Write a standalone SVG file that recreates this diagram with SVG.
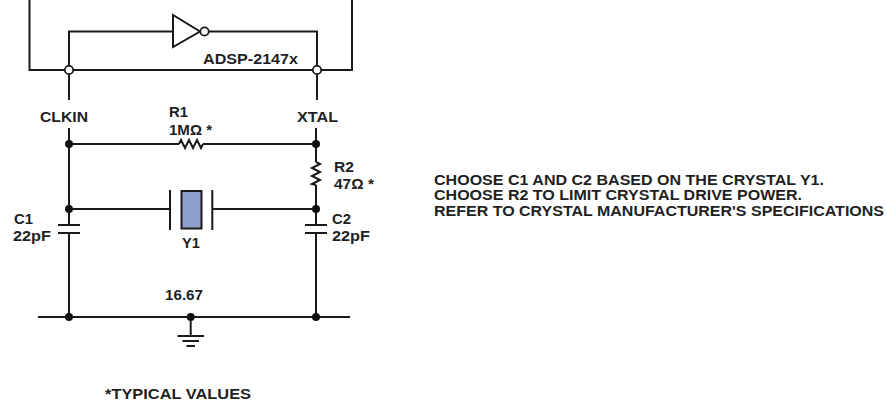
<svg xmlns="http://www.w3.org/2000/svg" width="887" height="405" viewBox="0 0 887 405">
<style>
.w{fill:none;stroke:#1a1a1a;stroke-width:2;stroke-linejoin:miter;stroke-linecap:butt}
.t{font-family:"Liberation Sans",Arial,Helvetica,sans-serif;font-weight:bold;font-size:14.5px;fill:#1f1f1f}
.dot{fill:#111}
.open{fill:#fff;stroke:#1a1a1a;stroke-width:1.8}
</style>
<rect width="887" height="405" fill="#fff"/>

<g id="chip">
<path class="w" d="M29.5,0 V70 H352 V0"/>
<text class="t" x="203" y="64" textLength="95" lengthAdjust="spacingAndGlyphs">ADSP-2147x</text>
</g>

<g id="inverter">
<polygon class="w" points="173,15 173,47 200,31.5" fill="#fff"/>
<circle class="open" cx="204.5" cy="31.5" r="4.2"/>
</g>

<g id="connectors">
<path class="w" d="M69,66 V31.5 H173"/>
<path class="w" d="M208.7,31.5 H317 V66"/>
<path class="w" d="M69,74 V100"/>
<path class="w" d="M317,74 V100"/>
<path class="w" d="M69,128 V225"/>
<path class="w" d="M316,128 V162"/>
<path class="w" d="M69,144 H179"/>
<path class="w" d="M203,144 H316"/>
<path class="w" d="M316,185 V225"/>
<path class="w" d="M69,209 H170"/>
<path class="w" d="M212.3,209 H316"/>
<path class="w" d="M69,233 V317"/>
<path class="w" d="M316,233 V317"/>
<path class="w" d="M38,317 H350"/>
</g>

<g id="pinCLKIN">
<circle class="open" cx="69" cy="70" r="4.2"/>
<text class="t" x="40" y="122" textLength="48" lengthAdjust="spacingAndGlyphs">CLKIN</text>
</g>
<g id="pinXTAL">
<circle class="open" cx="317" cy="70" r="4.2"/>
<text class="t" x="297" y="122" textLength="41" lengthAdjust="spacingAndGlyphs">XTAL</text>
</g>

<g id="R1">
<path class="w" d="M179,144 L181,140 L185,148 L189,140 L193,148 L197,140 L201,148 L203,144"/>
<text class="t" x="169" y="117" textLength="19" lengthAdjust="spacingAndGlyphs">R1</text>
<text class="t" x="169" y="135" textLength="43" lengthAdjust="spacingAndGlyphs">1MΩ *</text>
</g>

<g id="R2">
<path class="w" d="M316,162 L320,164 L312,168 L320,172 L312,176 L320,180 L312,184 L316,185"/>
<text class="t" x="334" y="172" textLength="20" lengthAdjust="spacingAndGlyphs">R2</text>
<text class="t" x="334" y="189" textLength="40" lengthAdjust="spacingAndGlyphs">47Ω *</text>
</g>

<g id="Y1">
<path class="w" d="M170,190 V230 M212.3,190 V230"/>
<rect x="181.5" y="191" width="20" height="37.5" fill="#8d9fcb" stroke="#1a1a1a" stroke-width="2"/>
<text class="t" x="182" y="248" textLength="18" lengthAdjust="spacingAndGlyphs">Y1</text>
</g>

<g id="C1">
<path class="w" d="M58,225 H80 M58,233 H80"/>
<text class="t" x="14" y="224" textLength="19" lengthAdjust="spacingAndGlyphs">C1</text>
<text class="t" x="13" y="241" textLength="38" lengthAdjust="spacingAndGlyphs">22pF</text>
</g>

<g id="C2">
<path class="w" d="M305,225 H327 M305,233 H327"/>
<text class="t" x="332" y="224" textLength="19" lengthAdjust="spacingAndGlyphs">C2</text>
<text class="t" x="332" y="241" textLength="38" lengthAdjust="spacingAndGlyphs">22pF</text>
</g>

<g id="ground">
<path class="w" d="M190.7,317 V336 M177.5,336 H204 M182.5,341 H199 M186.5,346 H195"/>
<text class="t" x="165" y="300" textLength="38" lengthAdjust="spacingAndGlyphs">16.67</text>
</g>

<g id="junctions">
<circle class="dot" cx="69" cy="144" r="4"/>
<circle class="dot" cx="316" cy="144" r="4"/>
<circle class="dot" cx="69" cy="209" r="4"/>
<circle class="dot" cx="316" cy="209" r="4"/>
<circle class="dot" cx="69" cy="317" r="4"/>
<circle class="dot" cx="190.7" cy="317" r="4"/>
<circle class="dot" cx="316" cy="317" r="4"/>
</g>

<g id="notes">
<text class="t" x="434" y="184.5" textLength="390" lengthAdjust="spacingAndGlyphs">CHOOSE C1 AND C2 BASED ON THE CRYSTAL Y1.</text>
<text class="t" x="434" y="200" textLength="368" lengthAdjust="spacingAndGlyphs">CHOOSE R2 TO LIMIT CRYSTAL DRIVE POWER.</text>
<text class="t" x="434" y="215.5" textLength="450" lengthAdjust="spacingAndGlyphs">REFER TO CRYSTAL MANUFACTURER'S SPECIFICATIONS</text>
<text class="t" x="105" y="399" textLength="146" lengthAdjust="spacingAndGlyphs">*TYPICAL VALUES</text>
</g>
</svg>
